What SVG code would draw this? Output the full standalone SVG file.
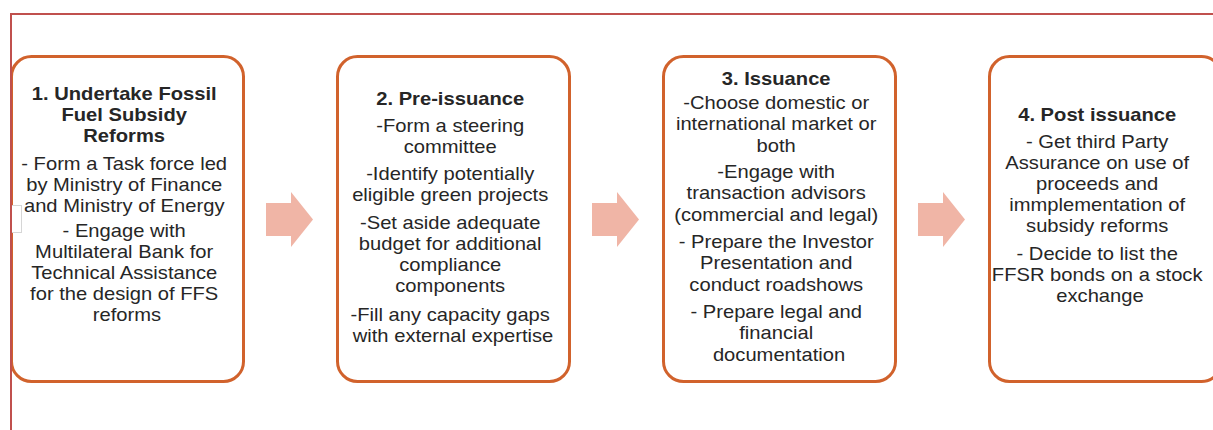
<svg xmlns="http://www.w3.org/2000/svg" width="1213" height="430" viewBox="0 0 1213 430">
  <style>
    .box { fill: #ffffff; stroke: #d1622c; stroke-width: 3; }
    .t { font-family: "Liberation Sans", Arial, sans-serif; font-size: 18px; fill: #262626; text-anchor: middle; }
    .b { font-weight: bold; }
    .arrow { fill: #f0b5a6; }
    .frame { stroke: #c0504d; stroke-width: 2; fill: none; }
  </style>
  <defs>
    <!-- block arrow pointing right, origin at the left end of its shaft centre line -->
    <path id="blockArrow" d="M0,-16.5 H25 V-27.5 L47,0 L25,27.5 V16.5 H0 Z"/>
  </defs>

  <rect width="1213" height="430" fill="#ffffff"/>

  <g id="node-1">
    <rect class="box" x="11.5" y="56.5" width="232" height="325" rx="20" ry="20"/>
    <text class="t" transform="translate(127 0) scale(1.12 1)">
      <tspan class="b" x="0" y="100">1. Undertake Fossil</tspan>
      <tspan class="b" x="0" y="121">Fuel Subsidy</tspan>
      <tspan class="b" x="0" y="142">Reforms</tspan>
      <tspan x="0" y="170">- Form a Task force led</tspan>
      <tspan x="0" y="191">by Ministry of Finance</tspan>
      <tspan x="0" y="212">and Ministry of Energy</tspan>
      <tspan x="0" y="237">- Engage with</tspan>
      <tspan x="0" y="258">Multilateral Bank for</tspan>
      <tspan x="0" y="279">Technical Assistance</tspan>
      <tspan x="0" y="300">for the design of FFS</tspan>
      <tspan x="0" y="321">reforms</tspan>
    </text>
  </g>

  <g id="node-2">
    <rect class="box" x="337.5" y="56.5" width="232" height="325" rx="20" ry="20"/>
    <text class="t" transform="translate(453 0) scale(1.12 1)">
      <tspan class="b" x="0" y="105">2. Pre-issuance</tspan>
      <tspan x="0" y="132">-Form a steering</tspan>
      <tspan x="0" y="153">committee</tspan>
      <tspan x="0" y="180">-Identify potentially</tspan>
      <tspan x="0" y="201">eligible green projects</tspan>
      <tspan x="0" y="229">-Set aside adequate</tspan>
      <tspan x="0" y="250">budget for additional</tspan>
      <tspan x="0" y="271">compliance</tspan>
      <tspan x="0" y="292">components</tspan>
      <tspan x="0" y="321">-Fill any capacity gaps</tspan>
      <tspan x="0" y="342">with external expertise</tspan>
    </text>
  </g>

  <g id="node-3">
    <rect class="box" x="663.5" y="56.5" width="232" height="325" rx="20" ry="20"/>
    <text class="t" transform="translate(779 0) scale(1.12 1)">
      <tspan class="b" x="0" y="85">3. Issuance</tspan>
      <tspan x="0" y="109">-Choose domestic or</tspan>
      <tspan x="0" y="130.5">international market or</tspan>
      <tspan x="0" y="152">both</tspan>
      <tspan x="0" y="178">-Engage with</tspan>
      <tspan x="0" y="199.5">transaction advisors</tspan>
      <tspan x="0" y="221">(commercial and legal)</tspan>
      <tspan x="0" y="248">- Prepare the Investor</tspan>
      <tspan x="0" y="269.5">Presentation and</tspan>
      <tspan x="0" y="291">conduct roadshows</tspan>
      <tspan x="0" y="318">- Prepare legal and</tspan>
      <tspan x="0" y="339.5">financial</tspan>
      <tspan x="0" y="361">documentation</tspan>
    </text>
  </g>

  <g id="node-4">
    <rect class="box" x="989.5" y="56.5" width="232" height="325" rx="20" ry="20"/>
    <text class="t" transform="translate(1100 0) scale(1.12 1)">
      <tspan class="b" x="0" y="121">4. Post issuance</tspan>
      <tspan x="0" y="148">- Get third Party</tspan>
      <tspan x="0" y="169">Assurance on use of</tspan>
      <tspan x="0" y="190">proceeds and</tspan>
      <tspan x="0" y="211">immplementation of</tspan>
      <tspan x="0" y="232">subsidy reforms</tspan>
      <tspan x="0" y="260">- Decide to list the</tspan>
      <tspan x="0" y="281">FFSR bonds on a stock</tspan>
      <tspan x="0" y="302">exchange</tspan>
    </text>
  </g>

  <g id="connectors">
    <use href="#blockArrow" class="arrow" x="266" y="219.5"/>
    <use href="#blockArrow" class="arrow" x="592" y="219.5"/>
    <use href="#blockArrow" class="arrow" x="918" y="219.5"/>
  </g>

  <!-- small empty placeholder box at the left edge -->
  <rect x="11.5" y="205.5" width="10" height="27" fill="#ffffff" stroke="#d6d6d6" stroke-width="1"/>

  <!-- page frame along the top and left -->
  <path class="frame" d="M11,430 V14 H1213"/>
</svg>
